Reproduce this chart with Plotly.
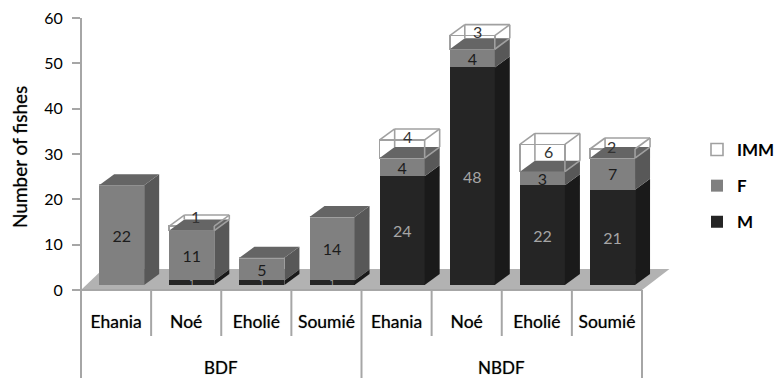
import plotly.graph_objects as go

# ---- data ----
sites = ["Ehania", "Noé", "Eholié", "Soumié", "Ehania", "Noé", "Eholié", "Soumié"]
groups = ["BDF", "NBDF"]
m_values = [0, 1, 1, 1, 24, 48, 22, 21]
f_values = [22, 11, 5, 14, 4, 4, 3, 7]
imm_values = [0, 1, 0, 0, 4, 3, 6, 2]
y_ticks = [0, 10, 20, 30, 40, 50, 60]
# label nudges (px) of the IMM labels, which sit in the depth of the open box
imm_xshift = [0, 4, 0, 0, 5, 5, 6, -1]
imm_yshift = [0, 12, 0, 0, 13, 11, 7, 7]

# ---- style / frame (pixels) ----
W, H = 775, 378
L, R, T, B = 81, 775, 5, 290       # plot area
SLOT = 70.125                      # px per category
UNIT = 272 / 60                    # px per y unit
SHIFT_X, SHIFT_Y = 5.6, 5          # front-of-bar plane relative to axis plane
DEPTH_X, DEPTH_Y = 15 / SLOT, 11 / UNIT
BAR_W = 45 / SLOT
GRAY = "#a6a6a6"
FONT = "Lato"
SOFT = "0 0 1px rgba(0,0,0,0.55)"
C_M, C_M_SIDE, C_M_TOP = "#252525", "#1a1a1a", "#333333"
C_F, C_F_SIDE, C_F_TOP = "#808080", "#585858", "#656565"
C_FLOOR = "#b2b2b2"
C_WIRE = "#a0a0a0"

pw, ph = R - L, B - T
xs = list(range(len(sites)))
fig = go.Figure()


def txt(v):
    return [str(a) if a else "" for a in v]


fig.add_bar(name="M", x=xs, y=m_values, xaxis="x2", yaxis="y2", width=BAR_W,
            marker=dict(color=C_M, line_width=0), text=txt(m_values),
            textposition="inside", insidetextanchor="middle", constraintext="none",
            textangle=0,
            insidetextfont=dict(color="#a6a6a6", size=[9 if a < 3 else 16 for a in m_values], family=FONT),
            legendgroup="M", legendrank=3)
fig.add_bar(name="F", x=xs, y=f_values, xaxis="x2", yaxis="y2", width=BAR_W,
            marker=dict(color=C_F, line_width=0), text=txt(f_values),
            textposition="inside", insidetextanchor="middle", constraintext="none",
            textangle=0, insidetextfont=dict(color="#1c1c1c", size=16, family=FONT),
            legendgroup="F", legendrank=2)
fig.add_bar(name="IMM", x=xs, y=imm_values, xaxis="x2", yaxis="y2", width=BAR_W,
            marker=dict(color="rgba(255,255,255,0)", line=dict(color=C_WIRE, width=1.6)),
            legendgroup="IMM", legendrank=1)

shapes = []


def poly(points, fill, line=None, width=0, xref="x2", yref="y2", layer="above"):
    path = "M" + " L".join(f"{x:.4f},{y:.4f}" for x, y in points) + " Z"
    shapes.append(dict(type="path", path=path, xref=xref, yref=yref, layer=layer,
                       fillcolor=fill, line=dict(color=line or fill, width=width)))


def seg(x0, y0, x1, y1):
    shapes.append(dict(type="line", x0=x0, y0=y0, x1=x1, y1=y1, xref="x2", yref="y2",
                       layer="above", line=dict(color=C_WIRE, width=1.6)))


# floor
poly([(-0.5, 0), (7.5, 0), (7.5 + 27.5 / SLOT, 21 / UNIT), (-0.5 + 22 / SLOT, 21 / UNIT)],
     C_FLOOR, xref="x", yref="y", layer="below")

# 3D depth of each bar, from the same values as the bars
for i, (m, f, imm) in enumerate(zip(m_values, f_values, imm_values)):
    x0, x1 = i - BAR_W / 2, i + BAR_W / 2
    if m:
        poly([(x1, 0), (x1 + DEPTH_X, DEPTH_Y), (x1 + DEPTH_X, m + DEPTH_Y), (x1, m)], C_M_SIDE)
    top = m + f
    poly([(x1, m), (x1 + DEPTH_X, m + DEPTH_Y), (x1 + DEPTH_X, top + DEPTH_Y), (x1, top)], C_F_SIDE)
    poly([(x0, top), (x1, top), (x1 + DEPTH_X, top + DEPTH_Y), (x0 + DEPTH_X, top + DEPTH_Y)], C_F_TOP)
    if imm:
        up = top + imm
        seg(x0, up, x0 + DEPTH_X, up + DEPTH_Y)
        seg(x1, up, x1 + DEPTH_X, up + DEPTH_Y)
        seg(x0 + DEPTH_X, up + DEPTH_Y, x1 + DEPTH_X, up + DEPTH_Y)
        seg(x0 + DEPTH_X, top + DEPTH_Y, x0 + DEPTH_X, up + DEPTH_Y)
        seg(x1 + DEPTH_X, top + DEPTH_Y, x1 + DEPTH_X, up + DEPTH_Y)
        seg(x1, up, x1, top)
        seg(x1, top, x1 + DEPTH_X, top + DEPTH_Y)


def vline(slot_edge, y_px, color=GRAY, y_top_px=B):
    xp = slot_edge * SLOT / pw
    shapes.append(dict(type="line", xref="paper", yref="paper", x0=xp, x1=xp,
                       y0=(B - y_px) / ph, y1=(B - y_top_px) / ph,
                       layer="above", line=dict(color=color, width=2)))


# axis frame and dividers
vline(0, H, y_top_px=18)
for e in (1, 2, 3, 5, 6, 7):
    vline(e, 336)
vline(4, H)
vline(8, H)
shapes.append(dict(type="line", xref="paper", yref="paper", x0=0, x1=8 * SLOT / pw, y0=0, y1=0,
                   layer="above", line=dict(color=GRAY, width=2)))

annotations = []
for i, v in enumerate(imm_values):
    if v:
        annotations.append(dict(x=i, y=m_values[i] + f_values[i] + v / 2, xref="x2", yref="y2",
                                text=str(v), showarrow=False, xshift=imm_xshift[i], yshift=imm_yshift[i],
                                font=dict(size=16, family=FONT, color="#333333")))
for g, centre in zip(groups, (2, 6)):
    annotations.append(dict(x=centre * SLOT / pw, y=(B - 367) / ph, xref="paper", yref="paper",
                            text=g, showarrow=False, yanchor="middle", xanchor="center",
                            font=dict(size=17, family=FONT, color="#000000", shadow=SOFT)))
annotations.append(dict(x=(19 - L) / pw, y=(B - 157) / ph, xref="paper", yref="paper",
                        text="Number of fishes", showarrow=False, textangle=-90,
                        xanchor="center", yanchor="middle",
                        font=dict(size=19, family=FONT, color="#000000", shadow=SOFT)))

fig.update_layout(
    width=W, height=H, autosize=False,
    margin=dict(l=L, r=W - R, t=T, b=H - B, autoexpand=False),
    paper_bgcolor="white", plot_bgcolor="rgba(0,0,0,0)", barmode="stack",
    font=dict(family=FONT, size=15, color="#000000"),
    shapes=shapes, annotations=annotations,
    legend=dict(x=(697 - L) / pw, y=(B - 132) / ph, xanchor="left", yanchor="top",
                traceorder="grouped", tracegroupgap=11, bgcolor="rgba(0,0,0,0)",
                font=dict(size=17, family=FONT, color="#000000", weight=700)),
    xaxis=dict(range=[-0.5, -0.5 + pw / SLOT], domain=[0, 1], tickmode="array", tickvals=xs, ticktext=sites,
               showgrid=False, zeroline=False, showline=False, ticks="", ticklabelstandoff=19,
               tickfont=dict(size=17.5, family=FONT, color="#000000", shadow=SOFT), anchor="y"),
    yaxis=dict(range=[0, ph / UNIT], domain=[0, 1], tickmode="array", tickvals=y_ticks,
               showgrid=False, zeroline=False, showline=False, ticks="outside", ticklen=8,
               ticklabelstandoff=6,
               tickwidth=2, tickcolor=GRAY, tickfont=dict(size=16, family=FONT, color="#000000"), anchor="x"),
    xaxis2=dict(range=[-0.5, -0.5 + (pw - SHIFT_X) / SLOT], domain=[SHIFT_X / pw, 1],
                visible=False, anchor="y2"),
    yaxis2=dict(range=[0, (ph - SHIFT_Y) / UNIT], domain=[SHIFT_Y / ph, 1],
                visible=False, anchor="x2"),
)
fig.write_html("out.html", post_script="document.body.style.margin='0';",
               config={"displayModeBar": False})
